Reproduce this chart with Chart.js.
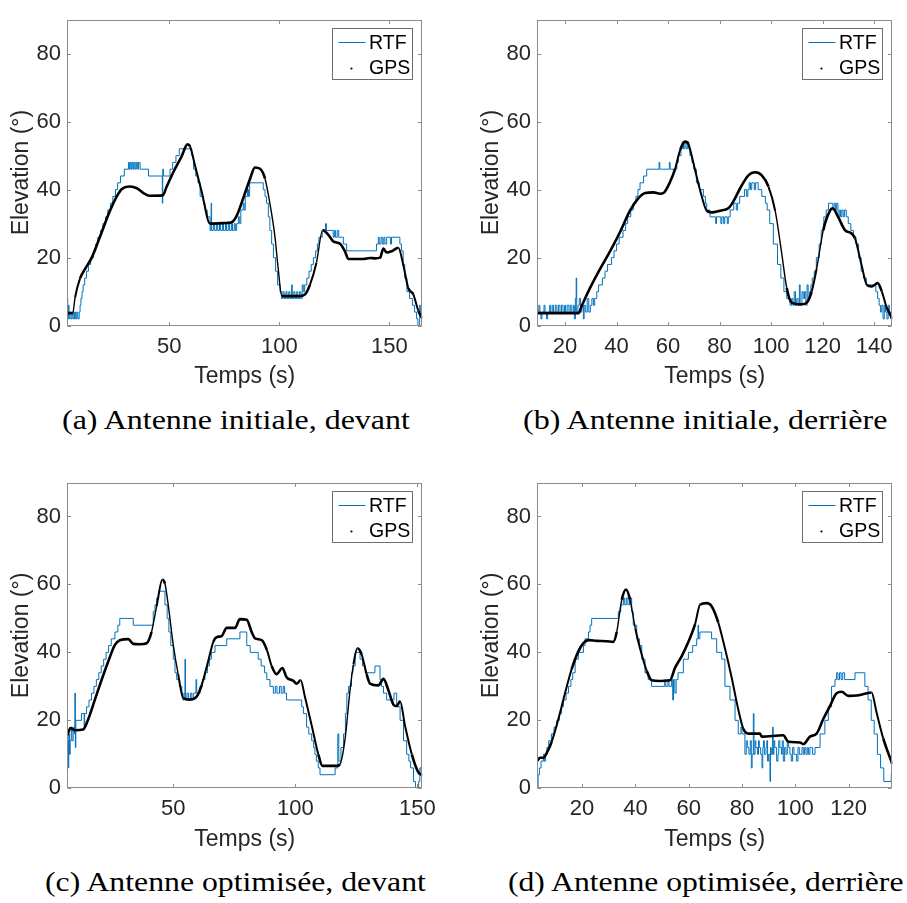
<!DOCTYPE html>
<html><head><meta charset="utf-8">
<script src="https://cdn.jsdelivr.net/npm/chart.js@4.4.1/dist/chart.umd.min.js"></script>
<style>
html,body{margin:0;padding:0;background:#fff;}
body{width:907px;height:903px;position:relative;overflow:hidden;}
canvas{position:absolute;}
.cap{position:absolute;font-family:'Liberation Serif','Times New Roman',serif;font-size:27px;line-height:27px;white-space:nowrap;color:#000;transform-origin:0 0;}
</style></head>
<body>
<canvas id="ca" width="450" height="395" style="left:0px;top:0px"></canvas>
<canvas id="cb" width="437" height="395" style="left:470px;top:0px"></canvas>
<canvas id="cc" width="450" height="395" style="left:0px;top:463px"></canvas>
<canvas id="cd" width="437" height="395" style="left:470px;top:463px"></canvas>
<div class="cap" id="capa"></div><div class="cap" id="capb"></div>
<div class="cap" id="capc"></div><div class="cap" id="capd"></div>
<script>
// ---------- data (time s, elevation deg) ----------
const captions = ['(a) Antenne initiale, devant','(b) Antenne initiale, derrière','(c) Antenne optimisée, devant','(d) Antenne optimisée, derrière'];
const seriesNames = ['RTF','GPS'];
const yTicks = [0,20,40,60,80];
const yRange = [0,90];
const xTicksA = [50,100,150];
const xTicksB = [20,40,60,80,100,120,140];
const xTicksC = [50,100,150];
const xTicksD = [20,40,60,80,100,120];
const xRangeA = [3.6,165];
const xRangeB = [9.2,147.1];
const xRangeC = [6.6,152];
const xRangeD = [3.2,136.4];

const rtfA = [[3.6,8],[3.8,2],[4.1,6],[4.4,2],[4.8,4],[5.3,2],[5.8,4],[6.3,2],[6.9,4],[7.4,2],[7.9,4],[8.4,2],[9.0,4],[9.4,6],[9.8,8],[10.3,10],[10.8,12],[11.5,14],[12.3,16],[13.2,18],[14.2,20],[15.5,22],[16.5,24],[17.5,26],[18.7,28],[19.8,30],[21.0,32],[22.0,34],[23.2,36],[24.3,38],[25.5,40],[26.5,42],[27.8,44],[29.5,46],[31.4,48],[31.8,46],[32.2,48],[32.7,46],[33.1,48],[33.6,46],[34.0,48],[34.5,46],[35.0,48],[35.6,46],[36.0,48],[36.7,46],[40.5,44],[46.8,36],[47.0,46],[47.3,44],[50.3,46],[51.5,48],[53.0,50],[54.5,52],[60.2,50],[61.0,46],[62.0,44],[63.0,42],[64.0,38],[65.5,36],[66.2,34],[67.2,32],[68.5,28],[69.0,36],[69.2,28],[70.0,30],[70.6,28],[71.5,30],[72.0,28],[72.8,30],[73.3,28],[74.2,30],[74.6,28],[75.5,30],[76.0,28],[76.8,30],[77.4,28],[78.2,30],[78.7,28],[79.5,30],[80.0,28],[80.6,30],[81.4,32],[82.0,30],[82.5,34],[83.6,36],[84.0,34],[84.5,38],[85.5,40],[86.0,38],[86.5,42],[92.7,40],[93.5,38],[94.2,36],[95.0,32],[95.7,28],[96.5,24],[97.3,20],[98.3,16],[99.2,12],[100.3,10],[101.0,8],[101.6,10],[102.2,8],[103.0,10],[103.5,8],[104.3,10],[104.8,8],[105.6,12],[105.9,8],[106.6,10],[107.1,8],[107.9,10],[108.4,8],[109.2,10],[109.8,8],[110.4,12],[110.9,10],[111.5,12],[112.5,14],[113.5,16],[114.5,18],[115.5,20],[116.5,22],[117.3,24],[118.0,26],[119.5,28],[121.0,30],[121.4,28],[124.5,26],[125.0,28],[125.5,26],[126.3,28],[127.0,26],[129.1,24],[130.6,22],[144.2,24],[145.0,26],[145.4,24],[146.2,26],[146.8,24],[147.5,26],[148.0,24],[148.8,26],[150.5,24],[151.0,26],[154.8,24],[155.5,22],[156.3,18],[157.0,14],[158.0,10],[159.2,8],[160.5,6],[161.5,4],[162.4,2],[163.0,0],[163.8,6],[164.3,4],[164.6,6],[165,6]];
const gpsA = [[3.6,3.7],[6.1,3.7],[7.1,8.2],[9.4,13.9],[11.7,16.7],[14.7,20],[18.5,26.2],[23,33.8],[26.1,38],[28.3,40.1],[32.1,40.9],[35.2,40.4],[38.2,39],[40.9,38.2],[47,38.3],[48.8,40.9],[51.8,45.1],[55.6,49.8],[58.2,53.3],[59.4,52.7],[61.7,47],[64.7,39.4],[68.5,30],[76,30.2],[78.3,30.4],[80.6,32.3],[83.6,37.5],[86.7,43.2],[88.9,46.5],[91.2,46.1],[93.5,43.2],[95.8,35.6],[98,26.2],[99.5,16.7],[101.1,8.7],[109.4,8.7],[111.7,9.2],[113.9,12],[116.9,18.6],[119.7,28.1],[122.3,26.7],[124.5,24.8],[127.6,24.1],[129.8,21.9],[131.4,19.6],[138.2,19.6],[141.2,19.9],[143.5,19.8],[145.8,20],[147.3,22.7],[148.8,21.5],[151.1,21.9],[154.1,22.9],[156.4,17.7],[158.6,11.1],[160.9,9.2],[163.2,4.4],[165,2.1]];

const rtfB = [[9.3,4],[9.8,6],[10.2,4],[10.6,2],[11.0,4],[11.8,6],[12.2,4],[12.8,2],[13.2,4],[14,6],[14.4,4],[15,6],[15.5,4],[16.2,6],[16.8,4],[17.4,6],[18,4],[18.6,6],[19.2,4],[19.8,6],[20.2,4],[20.8,6],[21.5,4],[22,6],[22.6,4],[23.2,6],[23.6,2],[24,8],[24.3,14],[24.5,4],[25,6],[25.5,8],[26,4],[26.5,6],[27.1,2],[27.4,6],[28,4],[28.6,8],[29.2,4],[29.8,6],[30.4,8],[31,6],[31.5,8],[32.3,10],[33,12],[34.5,14],[35.5,16],[36.5,18],[38,20],[39,22],[40,24],[41,26],[42.5,28],[43.5,30],[44.3,32],[45.5,34],[46.5,36],[47.5,38],[48.3,40],[49.1,42],[50.5,44],[51.7,46],[56.5,48],[56.8,46],[60.5,48],[60.8,46],[63.4,48],[64,50],[65,52],[65.5,54],[66,52],[66.5,54],[67,52],[67.5,54],[68,52],[68.5,50],[69.3,48],[70,46],[71,42],[72.2,40],[73.7,38],[74.5,36],[75,34],[76.3,32],[78.5,30],[78.8,32],[80.5,30],[80.9,32],[81.6,30],[82,32],[83,30],[83.4,32],[84.1,34],[85.5,36],[86.5,34],[87,36],[87.8,38],[89.7,40],[90.5,38],[91,40],[91.5,42],[92,40],[92.5,42],[93.5,40],[94,42],[95,40],[96.4,38],[97.8,36],[98.5,34],[99.5,30],[100.9,24],[102.5,18],[103.8,14],[105,10],[106.1,8],[107.4,6],[108,8],[108.5,6],[109,10],[109.5,6],[110,8],[110.5,6],[111,12],[111.3,6],[112,10],[112.5,8],[113,10],[113.5,6],[114,12],[114.4,8],[115,10],[115.5,12],[116,14],[116.8,16],[117.6,20],[118.7,24],[119.5,28],[120.5,32],[121.4,34],[122.3,36],[124,34],[124.5,36],[125,34],[125.5,36],[126,32],[126.5,34],[127,32],[127.5,34],[128,32],[128.5,34],[129.2,32],[130,30],[131,28],[132,26],[133,24],[134,20],[135,16],[135.9,14],[137,12],[140.7,10],[141.4,8],[142,6],[142.5,4],[143,6],[143.5,2],[144,6],[144.5,4],[145,2],[145.5,6],[146,4],[146.5,2],[147.1,2]];
const gpsB = [[9.2,3.7],[25.2,3.7],[26.5,5.9],[29.7,11.1],[33.6,16.7],[37.5,21.9],[41.4,27.6],[45.2,33.8],[48.5,37.5],[51.1,39],[54.3,39.2],[56.9,38.8],[58.2,39],[60.8,42.3],[62.7,46],[64.7,51.7],[66.6,54.1],[67.9,53.4],[69.8,47.9],[72.4,39.9],[75,33.8],[77,33.3],[80.2,33.8],[83.4,34.5],[85.4,36.6],[88,40.4],[91.2,44.2],[93.8,45.1],[96.4,44.2],[99,40.9],[101.6,33.8],[104.1,21.5],[106.1,11.1],[108,6.8],[111.9,6.3],[113.9,6.8],[115.8,10.1],[117.7,16.7],[120.3,28.1],[122.9,33.8],[123.9,34.5],[126.1,31.9],[128.7,28.1],[131.3,27.1],[132.6,25.7],[135.2,17.7],[137.2,12],[139.1,11.5],[141.4,12.5],[143,10.1],[144.9,5.4],[147.1,2.1]];

const rtfC = [[6.6,8],[6.8,14],[7.0,6],[7.2,16],[7.5,10],[7.8,14],[8.2,18],[8.5,14],[9,18],[9.5,16],[9.7,28],[9.9,12],[10.1,20],[12.4,22],[13.5,18],[13.7,22],[14.5,24],[15.5,26],[16.5,28],[17.5,30],[18.5,32],[19.5,34],[20.5,36],[21.5,38],[22.5,40],[23.5,42],[24.6,44],[26.1,46],[27.3,48],[28.1,50],[33.6,48],[41.8,52],[42.5,54],[43.2,56],[44,58],[46.6,54],[47.5,50],[48.2,46],[49,42],[50,38],[50.7,34],[51.4,32],[52.5,30],[53.5,28],[54,26],[54.5,28],[54.8,38],[55,26],[55.6,28],[56.2,26],[57,28],[57.6,26],[58.2,28],[59.3,32],[59.6,28],[61,30],[62,32],[63,34],[64,36],[64.8,38],[65.6,40],[67.1,42],[71.9,44],[77.3,46],[80.1,42],[81.5,40],[84.8,38],[86,36],[87.4,34],[88.3,32],[89.6,30],[91,28],[91.8,30],[92.5,28],[93.5,30],[94.2,28],[95.0,30],[95.6,28],[96.4,26],[102.6,24],[103.3,22],[104.6,18],[105.5,16],[106.7,14],[107.5,12],[108,10],[108.6,8],[109.4,6],[110.1,4],[116.3,6],[117.4,16],[117.8,8],[118.7,12],[119.7,16],[120.5,22],[121.1,28],[121.8,30],[123,34],[123.6,36],[124.5,40],[126.5,38],[127.5,36],[128.6,34],[132.6,36],[134.7,32],[135.3,30],[136.1,28],[137.4,26],[140.4,28],[141.5,24],[142.9,20],[144.3,14],[145.6,10],[146.5,8],[147.2,6],[148.4,2],[149.2,0],[150.5,2],[151,6],[151.5,4],[152,4]];
const gpsC = [[6.6,15.6],[7.9,17.7],[9.7,17.1],[13.1,17.3],[15.2,20.4],[17.9,26.1],[20.6,31.8],[23.4,37.4],[26.1,42.2],[28.1,43.6],[31.6,43.9],[33.6,42.5],[36.3,42.4],[39.1,42.7],[41.1,46],[43.2,53.6],[45.5,61.4],[46.6,60.2],[48,53.6],[50,42.2],[52,33.6],[54.1,26.5],[56.8,26.1],[59.6,27],[61.6,30.3],[64.3,37.4],[66.4,43.1],[67.8,44.5],[69.8,44.8],[71.9,47.2],[75.3,47.2],[77.3,49.8],[80.1,49.6],[82.1,46],[83.5,44.1],[86.2,43.6],[88.3,40.8],[90.3,36],[92.3,33.6],[94.7,35.4],[96.4,32.7],[99.2,31.6],[100.5,30.8],[102.2,31.8],[103.9,27],[106.7,18.5],[109.4,10],[111.1,6.6],[116.9,6.6],[118.3,7.1],[120.4,14.7],[122.4,28.9],[123.8,36.5],[125.4,41.2],[127.2,39.3],[129.2,33.6],[130.6,30.8],[134,30.3],[136.1,32.2],[138.1,28.9],[140.2,24.6],[141.5,24.2],[142.9,25.6],[144.9,18.5],[147.7,10],[150.4,4.7],[152,3.8]];

const rtfD = [[3.25,0],[3.5,4],[4.0,6],[4.6,8],[5.5,10],[5.8,8],[6.3,10],[6.8,12],[7.5,14],[8.5,16],[9.5,18],[10.5,20],[11.5,22],[12.3,24],[13,26],[14,28],[14.9,30],[15.8,32],[16.5,34],[17.4,38],[18.6,40],[20.5,42],[21.1,44],[22.4,46],[23,48],[23.6,50],[33.6,52],[34.5,54],[35.5,56],[36,54],[36.6,56],[37.2,54],[37.8,56],[38.6,52],[39.2,48],[40.5,44],[41.5,42],[42.4,38],[43.6,34],[44.8,32],[46.1,30],[51,32],[51.4,30],[52.2,32],[52.6,30],[53.6,32],[54,26],[54.3,32],[54.8,28],[55.3,32],[56,34],[56.75,34],[58,38],[59.9,40],[61.5,42],[63,44],[63.5,48],[63.7,44],[64.2,46],[68.6,44],[70.5,40],[72.4,38],[73.6,30],[75.5,26],[77.4,20],[78.6,16],[79.6,18],[80,16],[81.1,10],[81.6,14],[82,12],[82.6,10],[83.1,14],[83.5,6],[83.8,10],[84.25,22],[84.5,10],[84.9,14],[85.2,12],[85.8,10],[86.2,14],[86.5,12],[87,10],[87.5,6],[87.8,12],[88.1,14],[88.4,10],[89,12],[89.3,14],[89.6,8],[90,10],[90.5,2],[90.7,12],[91,10],[91.5,18],[91.7,10],[92,14],[92.3,12],[93,8],[93.5,10],[93.8,14],[94.2,12],[94.8,10],[95.1,14],[95.5,8],[96,12],[96.5,10],[97,14],[97.5,12],[98,10],[98.5,8],[99,12],[99.5,10],[100.5,8],[101,12],[101.5,10],[102.5,12],[103,10],[103.5,12],[104,10],[104.5,12],[105,10],[105.5,12],[106,12],[106.5,10],[107.4,12],[109.3,16],[111.1,20],[112.4,24],[113.6,30],[114.9,32],[115.5,34],[116,32],[116.6,34],[117.2,32],[117.8,34],[118.5,32],[122.4,34],[126.1,30],[127.3,26],[128.5,20],[129.6,16],[130.8,10],[132,6],[133.2,2],[136,4],[136.4,4]];
const gpsD = [[3.2,8.1],[4.25,9],[5.5,9],[6.75,10.4],[8.6,13.7],[11.1,20.4],[13.6,28],[16.1,35.1],[18.6,40.3],[20.5,42.7],[22.4,43.6],[25.5,43.4],[29.25,43.3],[31.75,43.1],[33,46],[34.9,55.5],[36.5,58.5],[38,55.5],[40,46.9],[42.4,39.3],[44.25,34.6],[46.1,31.8],[49.25,31.6],[53,31.8],[54.9,35.5],[57.4,38.9],[59.9,43.1],[62.4,48.3],[64.25,54],[66.75,54.5],[68.6,53.6],[71.1,48.8],[73.6,41.2],[76.1,32.7],[78.6,23.2],[80.5,17.5],[82.4,16.1],[86.75,16.1],[87.4,15.2],[95.5,15.6],[97.4,13.7],[101.75,13.5],[103,13],[105.5,15.2],[108,16.1],[110.5,20.4],[113,24.2],[115.5,28],[117.4,28.4],[119.9,27.2],[123,27.3],[126.1,27.8],[128.6,28.2],[130.5,22.3],[133,14.7],[136.4,7.1]];

// ---------- drawing ----------
const AXC = '#262626';
const SANS = "'Liberation Sans', Arial, Helvetica, sans-serif";

const framePlugin = {
  id: 'frame',
  afterDatasetsDraw(chart) {
    const {ctx, chartArea: a, scales: {x, y}} = chart;
    const L = Math.round(a.left) + 0.5, R = Math.round(a.right) - 0.5;
    const T = Math.round(a.top) + 0.5, B = Math.round(a.bottom) - 0.5;
    ctx.save();
    ctx.strokeStyle = '#8c8c8c';
    ctx.lineWidth = 1;
    ctx.strokeRect(L, T, R - L, B - T);
    const tl = 3.5;
    ctx.beginPath();
    x.ticks.forEach(t => {
      const px = Math.round(x.getPixelForValue(t.value)) + 0.5;
      ctx.moveTo(px, B); ctx.lineTo(px, B - tl);
      ctx.moveTo(px, T); ctx.lineTo(px, T + tl);
    });
    y.ticks.forEach(t => {
      const py = Math.round(y.getPixelForValue(t.value)) + 0.5;
      ctx.moveTo(L, py); ctx.lineTo(L + tl, py);
      ctx.moveTo(R, py); ctx.lineTo(R - tl, py);
    });
    ctx.stroke();
    // legend box
    const bw = 80, bh = 51;
    const bx = Math.round(a.right - 10 - bw) + 0.5, by = Math.round(a.top + 8) + 0.5;
    ctx.fillStyle = '#fff';
    ctx.fillRect(bx, by, bw, bh);
    ctx.strokeStyle = '#6e6e6e';
    ctx.strokeRect(bx, by, bw, bh);
    const ds = chart.data.datasets;
    ctx.strokeStyle = ds[0].borderColor;
    ctx.lineWidth = 1;
    ctx.beginPath();
    ctx.moveTo(bx + 6, by + 14); ctx.lineTo(bx + 33, by + 14);
    ctx.stroke();
    ctx.fillStyle = '#000';
    ctx.beginPath();
    ctx.arc(bx + 19, by + 40, 1.1, 0, Math.PI * 2);
    ctx.fill();
    ctx.font = '19.5px ' + SANS;
    ctx.textBaseline = 'middle';
    ctx.textAlign = 'left';
    ctx.fillText(ds[0].label, bx + 36.5, by + 15);
    ctx.fillText(ds[1].label, bx + 36.5, by + 40);
    ctx.restore();
  }
};

// thinner GPS trace where it is steep (dots spread apart in the original)
function gpsWidth(c) {
  const dx = Math.abs(c.p1.x - c.p0.x) || 0.001;
  const s = Math.abs(c.p1.y - c.p0.y) / dx;
  return s > 5 ? 1.4 : (s > 3 ? 2.0 : 2.6);
}

function makeChart(id, rtf, gps, xr, xt, area) {
  const cv = document.getElementById(id);
  const W = cv.width, H = cv.height;
  const tickFont = {family: SANS, size: 22};
  const titleFont = {family: SANS, size: 23};
  const tickLH = 22 * 1.2, titleLH = 23 * 1.2;
  return new Chart(cv, {
    type: 'line',
    data: {
      datasets: [
        {label: seriesNames[0], data: rtf.map(p => ({x: p[0], y: p[1]})), borderColor: '#0072BD', backgroundColor: '#0072BD', borderWidth: 1, pointRadius: 0, stepped: true, fill: false, order: 2},
        {label: seriesNames[1], data: gps.map(p => ({x: p[0], y: p[1]})), borderColor: '#000000', backgroundColor: '#000000', borderWidth: 2.6, pointRadius: 0, cubicInterpolationMode: 'monotone', fill: false, order: 1,
         segment: {borderWidth: gpsWidth}}
      ]
    },
    options: {
      responsive: false, animation: false, devicePixelRatio: 1,
      events: [],
      layout: {padding: {left: 0, top: area.t, right: W - area.r, bottom: 0}},
      plugins: {legend: {display: false}, tooltip: {enabled: false}},
      scales: {
        x: {
          type: 'linear', min: xr[0], max: xr[1],
          afterBuildTicks: s => { s.ticks = xt.map(v => ({value: v})); },
          afterFit: s => { s.height = H - area.b; },
          grid: {display: false, drawTicks: false}, border: {display: false},
          ticks: {autoSkip: false, maxRotation: 0, padding: 21 - tickLH / 2, color: AXC, font: tickFont},
          title: {display: true, text: 'Temps (s)', color: AXC, font: titleFont, padding: {top: 0, bottom: (H - area.b) - 51 - titleLH / 2}}
        },
        y: {
          type: 'linear', min: yRange[0], max: yRange[1],
          afterBuildTicks: s => { s.ticks = yTicks.map(v => ({value: v})); },
          afterFit: s => { s.width = area.l; },
          grid: {display: false, drawTicks: false}, border: {display: false},
          ticks: {autoSkip: false, padding: 6.3, color: AXC, font: tickFont},
          title: {display: true, text: 'Elevation (°)', color: AXC, font: titleFont, padding: {top: area.l - 45.5 - titleLH / 2, bottom: 0}}
        }
      }
    },
    plugins: [framePlugin]
  });
}

makeChart('ca', rtfA, gpsA, xRangeA, xTicksA, {l: 67.3, t: 9, r: 422.3, b: 325.7});
makeChart('cb', rtfB, gpsB, xRangeB, xTicksB, {l: 67.3, t: 9, r: 422.3, b: 325.7});
makeChart('cc', rtfC, gpsC, xRangeC, xTicksC, {l: 67.3, t: 9.7, r: 422.3, b: 325.3});
makeChart('cd', rtfD, gpsD, xRangeD, xTicksD, {l: 67.3, t: 9.7, r: 422.3, b: 325.3});

// captions (centre x, top, target width)
const capPos = [
  ['capa', 235.8, 406.5, 348],
  ['capb', 704.7, 406.5, 364],
  ['capc', 235.5, 868.8, 381],
  ['capd', 705.5, 868.8, 395]
];
capPos.forEach((c, i) => {
  const el = document.getElementById(c[0]);
  el.textContent = captions[i];
  const w = el.offsetWidth;
  const s = c[3] / w;
  el.style.left = (c[1] - c[3] / 2) + 'px';
  el.style.top = c[2] + 'px';
  el.style.transform = 'scaleX(' + s.toFixed(4) + ')';
});
</script>
</body></html>
